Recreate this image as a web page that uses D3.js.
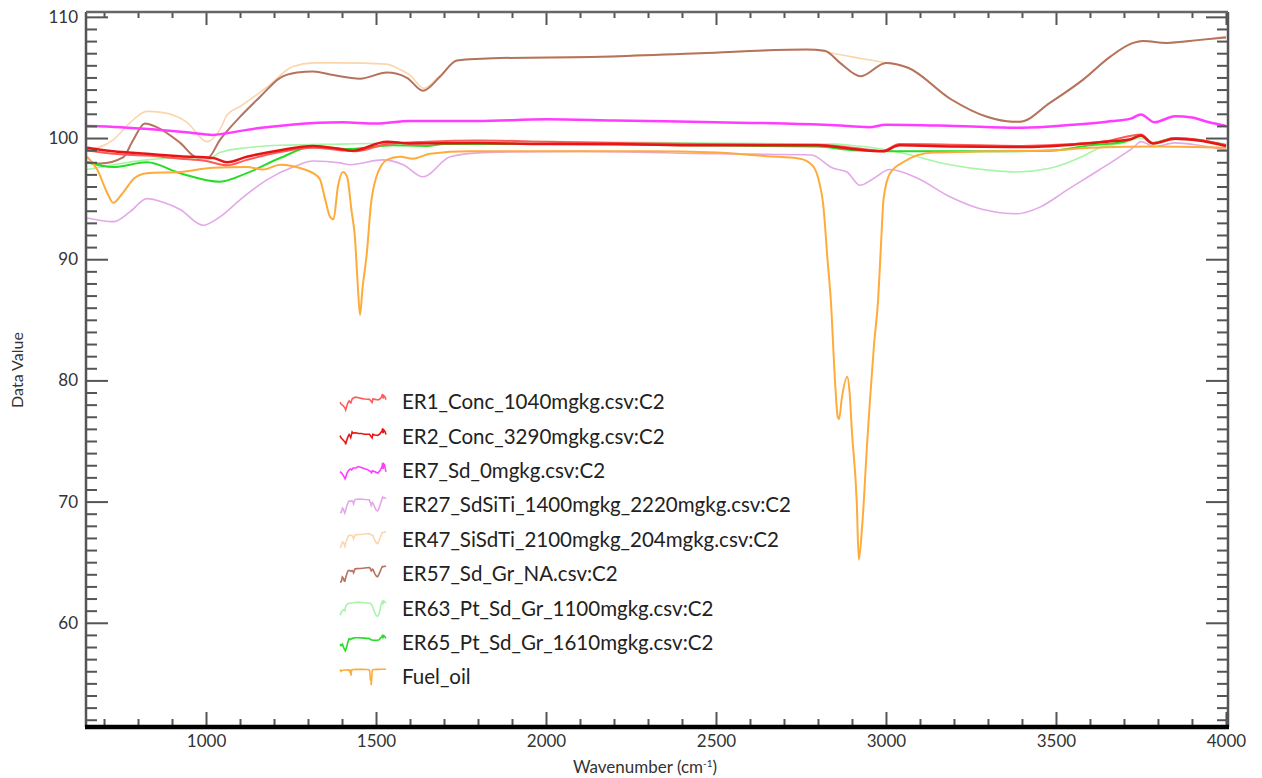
<!DOCTYPE html>
<html>
<head>
<meta charset="utf-8">
<script src="https://cdn.jsdelivr.net/npm/d3@7"></script>
<style>
  body { margin: 0; background: #fff; }
  svg { display: block; font-family: Lato, "Open Sans", sans-serif; }
</style>
</head>
<body>
<svg id="chart" width="1262" height="778"></svg>
<script>
// spectra: [wavenumber, value]
const er1 = [[650,99.0],[727,98.7],[826,98.55],[924,98.3],[1000,98.1],[1062,97.75],[1120,98.2],[1218,98.85],[1315,99.2],[1394,99.0],[1440,98.9],[1532,99.5],[1650,99.7],[1800,99.8],[2000,99.7],[2200,99.6],[2450,99.5],[2800,99.45],[2900,99.2],[2990,98.95],[3040,99.5],[3200,99.45],[3400,99.35],[3550,99.5],[3650,99.75],[3750,100.3],[3785,99.6],[3850,100.0],[3920,99.85],[4000,99.4]];
const er2 = [[650,99.2],[727,98.9],[826,98.7],[924,98.5],[1021,98.35],[1062,98.0],[1120,98.45],[1218,99.0],[1315,99.35],[1394,99.1],[1430,98.95],[1532,99.7],[1600,99.55],[1800,99.6],[2000,99.5],[2200,99.5],[2450,99.4],[2800,99.4],[2900,99.1],[2990,98.9],[3040,99.4],[3200,99.3],[3400,99.25],[3550,99.45],[3650,99.7],[3720,99.9],[3750,100.2],[3785,99.55],[3850,99.95],[3920,99.8],[4000,99.35]];
const er7 = [[650,101.0],[750,100.9],[850,100.7],[950,100.45],[1020,100.25],[1060,100.4],[1150,100.8],[1250,101.1],[1400,101.3],[1500,101.2],[1600,101.4],[1800,101.4],[2000,101.55],[2200,101.45],[2500,101.3],[2700,101.2],[2850,101.05],[2950,100.9],[3000,101.1],[3200,101.0],[3400,100.85],[3550,101.1],[3650,101.35],[3720,101.6],[3750,101.95],[3790,101.3],[3850,101.8],[3900,101.7],[3950,101.3],[4000,101.0]];
const er27 = [[650,93.4],[727,93.1],[776,93.9],[826,95.0],[874,94.7],[924,94.1],[991,92.8],[1041,93.5],[1100,94.9],[1179,96.55],[1256,97.6],[1315,98.1],[1394,97.95],[1424,97.8],[1520,98.2],[1580,97.8],[1638,96.8],[1718,98.45],[1815,98.8],[2100,98.9],[2500,98.7],[2780,98.6],[2845,97.5],[2885,97.2],[2924,96.1],[2960,96.6],[3012,97.4],[3091,96.7],[3188,95.15],[3285,94.1],[3385,93.75],[3453,94.3],[3532,95.7],[3629,97.4],[3727,99.2],[3750,99.7],[3790,99.3],[3850,99.6],[3920,99.4],[4000,99.0]];
const er47 = [[650,99.0],[727,99.85],[776,101.25],[826,102.2],[874,102.1],[944,101.3],[1003,99.7],[1041,100.7],[1062,101.9],[1100,102.6],[1179,104.2],[1256,105.9],[1315,106.2],[1394,106.2],[1532,106.1],[1560,105.8],[1600,105.2],[1640,104.1],[1690,105.2],[1738,106.4],[1865,106.6],[2159,106.7],[2453,107.0],[2768,107.3],[2843,107.0],[2900,106.7],[3000,106.2],[3065,105.8],[3191,103.2],[3297,101.75],[3371,101.35],[3394,101.35],[3482,102.9],[3579,104.8],[3659,106.7],[3727,107.85],[3756,108.0],[3826,107.85],[3924,108.1],[4000,108.4]];
const er57 = [[650,98.0],[690,97.9],[756,98.4],[785,99.8],[820,101.2],[855,100.9],[924,99.6],[974,98.4],[1006,98.4],[1041,99.85],[1100,101.75],[1159,103.4],[1218,104.97],[1268,105.4],[1315,105.5],[1374,105.2],[1453,104.9],[1532,105.4],[1591,104.97],[1638,103.9],[1688,105.05],[1738,106.4],[1865,106.6],[2159,106.7],[2453,107.0],[2768,107.3],[2820,107.2],[2865,106.2],[2926,105.1],[3000,106.2],[3065,105.8],[3191,103.2],[3297,101.75],[3371,101.35],[3394,101.35],[3482,102.9],[3579,104.8],[3659,106.7],[3727,107.85],[3756,108.0],[3826,107.85],[3924,108.1],[4000,108.3]];
const er63 = [[650,97.4],[727,97.8],[826,98.2],[924,98.35],[1003,98.2],[1041,98.8],[1120,99.2],[1218,99.4],[1394,99.5],[1600,99.6],[2000,99.7],[2400,99.6],[2850,99.5],[2894,99.4],[2960,99.2],[3041,98.8],[3188,97.8],[3300,97.35],[3385,97.2],[3482,97.5],[3579,98.5],[3629,99.2],[3700,99.6],[3750,100.0],[3790,99.5],[3850,99.9],[4000,99.5]];
const er65 = [[650,98.0],[727,97.6],[826,98.0],[924,97.1],[1041,96.4],[1120,97.1],[1218,98.35],[1315,99.3],[1420,99.1],[1550,99.4],[1650,99.35],[1700,99.5],[2000,99.5],[2400,99.4],[2800,99.3],[2900,99.0],[3090,98.9],[3300,98.9],[3480,98.95],[3600,99.4],[3700,99.7],[3750,100.2],[3785,99.6],[3850,100.0],[4000,99.4]];
const fuelOil = [[650,98.45],[680,97.4],[709,95.5],[727,94.65],[756,95.5],[790,96.7],[826,97.1],[924,97.2],[1021,97.55],[1120,97.6],[1168,97.4],[1218,97.8],[1290,97.4],[1315,97.1],[1335,96.6],[1350,95.0],[1365,93.5],[1375,93.3],[1388,96.0],[1403,97.2],[1415,96.8],[1428,94.0],[1438,91.8],[1446,88.0],[1453,85.4],[1460,87.5],[1473,90.5],[1485,94.5],[1500,96.7],[1532,98.2],[1571,98.45],[1609,98.3],[1659,98.7],[1776,98.9],[2000,98.9],[2300,98.9],[2500,98.8],[2650,98.5],[2747,98.3],[2785,97.7],[2805,96.2],[2815,94.6],[2828,90.0],[2838,86.5],[2850,80.0],[2858,77.0],[2862,76.8],[2870,78.5],[2886,80.3],[2893,79.0],[2900,75.7],[2914,70.0],[2920,65.2],[2930,68.0],[2945,75.0],[2953,78.4],[2965,83.0],[2977,86.7],[2985,91.0],[2993,95.0],[3012,97.1],[3050,98.0],[3138,98.8],[3300,98.9],[3500,99.0],[3600,99.2],[3800,99.3],[4000,99.2]];

const seriesNames = ["ER1_Conc_1040mgkg.csv:C2", "ER2_Conc_3290mgkg.csv:C2", "ER7_Sd_0mgkg.csv:C2",
  "ER27_SdSiTi_1400mgkg_2220mgkg.csv:C2", "ER47_SiSdTi_2100mgkg_204mgkg.csv:C2", "ER57_Sd_Gr_NA.csv:C2",
  "ER63_Pt_Sd_Gr_1100mgkg.csv:C2", "ER65_Pt_Sd_Gr_1610mgkg.csv:C2", "Fuel_oil"];
const seriesData = [er1, er2, er7, er27, er47, er57, er63, er65, fuelOil];
const seriesColors = ["#ff5a5a", "#e61616", "#ff3cff", "#e3a8e8", "#fbd6ad", "#b5735e", "#a8f5a8", "#26dc26", "#ffab3a"];
const seriesWidths = [2, 2.5, 2.5, 1.6, 1.6, 2, 1.6, 2, 2];
// drawing order (last on top)
const drawOrder = [4, 5, 3, 6, 7, 8, 0, 1, 2];

const xMajor = [1000, 1500, 2000, 2500, 3000, 3500, 4000];
const yMajor = [60, 70, 80, 90, 100, 110];

const svg = d3.select("#chart");
const padL = 86, padR = 1228, padT = 12, padB = 727;

const x = d3.scaleLinear().domain([647, 4006]).range([padL, padR]);
const y = d3.scaleLinear().domain([51.4, 110.4]).range([padB, padT]);

const xMinor = d3.range(700, 4001, 100).filter(v => xMajor.indexOf(v) < 0);
const yMinor = d3.range(52, 111, 1).filter(v => yMajor.indexOf(v) < 0);

svg.append("clipPath").attr("id", "clip")
  .append("rect").attr("x", padL).attr("y", padT).attr("width", padR - padL).attr("height", padB - padT);

const line = d3.line()
  .x(d => x(d[0]))
  .y(d => y(d[1]))
  .curve(d3.curveMonotoneX);

const plot = svg.append("g").attr("clip-path", "url(#clip)");
drawOrder.forEach(i => {
  plot.append("path")
    .datum(seriesData[i])
    .attr("fill", "none")
    .attr("stroke", seriesColors[i])
    .attr("stroke-width", seriesWidths[i])
    .attr("stroke-linejoin", "round")
    .attr("d", line);
});

// axes
function styleAxis(g) {
  g.select(".domain").remove();
  g.selectAll(".tick line").attr("stroke", "#555").attr("stroke-width", 2);
  g.selectAll(".tick text").attr("fill", "#333").style("font-size", "17px").style("font-family", "Lato, sans-serif");
}

svg.append("g").attr("transform", `translate(${padL},0)`)
  .call(d3.axisRight(y).tickValues(yMinor).tickSize(11).tickFormat("")).call(styleAxis);
svg.append("g").attr("transform", `translate(${padL},0)`)
  .call(d3.axisLeft(y).tickValues(yMajor).tickSize(-22).tickPadding(8).tickFormat(d3.format("d"))).call(styleAxis);
svg.append("g").attr("transform", `translate(${padR},0)`)
  .call(d3.axisLeft(y).tickValues(yMinor).tickSize(11).tickFormat("")).call(styleAxis);
svg.append("g").attr("transform", `translate(${padR},0)`)
  .call(d3.axisLeft(y).tickValues(yMajor).tickSize(22).tickFormat("")).call(styleAxis);

svg.append("g").attr("transform", `translate(0,${padT})`)
  .call(d3.axisBottom(x).tickValues(xMinor).tickSize(6).tickFormat("")).call(styleAxis);
svg.append("g").attr("transform", `translate(0,${padT})`)
  .call(d3.axisBottom(x).tickValues(xMajor).tickSize(13).tickFormat("")).call(styleAxis);
svg.append("g").attr("transform", `translate(0,${padB})`)
  .call(d3.axisTop(x).tickValues(xMinor).tickSize(8).tickFormat("")).call(styleAxis);
svg.append("g").attr("transform", `translate(0,${padB})`)
  .call(d3.axisBottom(x).tickValues(xMajor).tickSize(-15).tickPadding(8).tickFormat(d3.format("d"))).call(styleAxis);

// frame
svg.append("line").attr("x1", padL).attr("x2", padL).attr("y1", padT).attr("y2", padB).attr("stroke", "#555").attr("stroke-width", 2.5);
svg.append("line").attr("x1", padR).attr("x2", padR).attr("y1", padT).attr("y2", padB).attr("stroke", "#555").attr("stroke-width", 2.5);
svg.append("line").attr("x1", padL).attr("x2", padR).attr("y1", padT).attr("y2", padT).attr("stroke", "#666").attr("stroke-width", 2.5);
svg.append("line").attr("x1", padL - 1).attr("x2", padR + 1).attr("y1", padB).attr("y2", padB).attr("stroke", "#000").attr("stroke-width", 4.5);

// axis titles
const xTitle = svg.append("text").attr("x", 645).attr("y", 773).attr("text-anchor", "middle")
  .attr("fill", "#333").style("font-size", "17px");
xTitle.append("tspan").text("Wavenumber (cm");
xTitle.append("tspan").attr("dy", -6).style("font-size", "10px").text("-1");
xTitle.append("tspan").attr("dy", 6).text(")");
svg.append("text").attr("transform", "translate(23,370) rotate(-90)").attr("text-anchor", "middle")
  .attr("fill", "#333").style("font-size", "16px").text("Data Value");

// legend with small copies of each spectrum
const legend = svg.append("g");
const rowY = i => 402 + i * 34.4;
seriesNames.forEach((name, i) => {
  const d = seriesData[i];
  const mx = d3.scaleLinear().domain([650, 4000]).range([340, 386]);
  const my = d3.scaleLinear().domain(d3.extent(d, p => p[1])).range([rowY(i) + 8, rowY(i) - 8]);
  legend.append("path")
    .datum(d)
    .attr("fill", "none")
    .attr("stroke", seriesColors[i])
    .attr("stroke-width", 1.6)
    .attr("d", d3.line().x(p => mx(p[0])).y(p => my(p[1])));
  legend.append("text")
    .attr("x", 402).attr("y", rowY(i)).attr("dy", "0.35em")
    .attr("fill", "#222").style("font-size", "20.5px")
    .text(name);
});
</script>
</body>
</html>
